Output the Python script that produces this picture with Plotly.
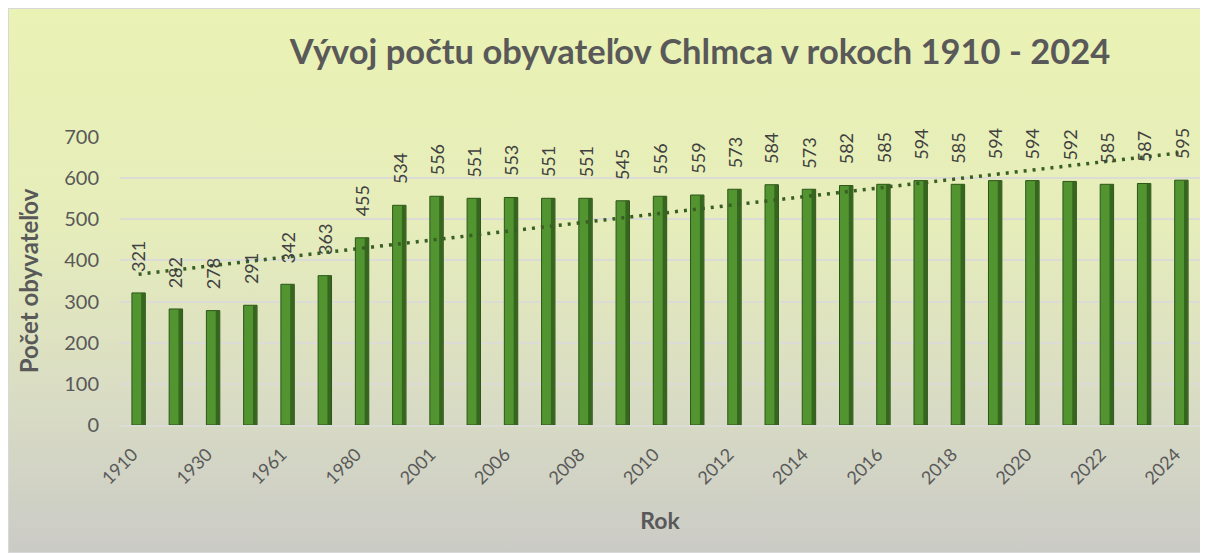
import base64
import numpy as np
import plotly.graph_objects as go

# ---------------- data ----------------
years = ["1910", "1921", "1930", "1940", "1961", "1970", "1980", "1991", "2001", "2005",
         "2006", "2007", "2008", "2009", "2010", "2011", "2012", "2013", "2014", "2015",
         "2016", "2017", "2018", "2019", "2020", "2021", "2022", "2023", "2024"]
population = [321, 282, 278, 291, 342, 363, 455, 534, 556, 551,
              553, 551, 551, 545, 556, 559, 573, 584, 573, 582,
              585, 594, 585, 594, 594, 592, 585, 587, 595]
shown_ticks = years[::2]

title_text = "Vývoj počtu obyvateľov Chlmca v rokoch 1910 - 2024"
y_title = "Počet obyvateľov"
x_title = "Rok"

# linear trend (Excel-style linear trendline)
idx = np.arange(len(population))
slope, intercept = np.polyfit(idx, population, 1)
trend = slope * idx + intercept

# ---------------- style ----------------
W, H = 1200, 545
ML, MR, MT, MB = 112, 8, 129, 128
PW, PH = W - ML - MR, H - MT - MB
FONT = "Lato"
GREY = "#595959"

svg = f'''<svg xmlns="http://www.w3.org/2000/svg" width="{W}" height="{H}" viewBox="0 0 {W} {H}" preserveAspectRatio="none">
<defs><linearGradient id="g" x1="0" y1="0" x2="0" y2="1">
<stop offset="0" stop-color="#eaf2b4"/>
<stop offset="0.4" stop-color="#e6edbb"/>
<stop offset="0.72" stop-color="#d9dcc4"/>
<stop offset="1" stop-color="#cbcbc6"/>
</linearGradient></defs>
<rect x="0" y="0" width="{W}" height="{H}" fill="url(#g)" stroke="#d8d8d8" stroke-width="2"/>
</svg>'''
bg_src = "data:image/svg+xml;base64," + base64.b64encode(svg.encode("utf-8")).decode()

fig = go.Figure()
# bar body (lit face)
fig.add_trace(go.Bar(
    x=years, y=population, width=0.36, offset=-0.18,
    marker=dict(color="#529530", line=dict(color="#2c5518", width=1)),
    showlegend=False, hoverinfo="x+y",
))
# darker right side of the bar to suggest the bevel
fig.add_trace(go.Bar(
    x=years, y=population, width=0.1, offset=0.07,
    marker=dict(color="#36651f", line=dict(width=0)),
    showlegend=False, hoverinfo="skip",
))
fig.add_trace(go.Scatter(
    x=years, y=trend, mode="lines",
    line=dict(color="#385e24", width=3.5, dash="3px,6px"),
    showlegend=False, hoverinfo="skip",
))

# data labels; on a category axis annotations use the category serial number
annotations = [
    dict(x=i, y=v, xref="x", yref="y", text=str(v), showarrow=False,
         textangle=-90, yanchor="bottom", xanchor="center", yshift=19,
         font=dict(family=FONT, size=18, color="#404040"))
    for i, v in enumerate(population)
]

fig.update_layout(
    width=W, height=H,
    margin=dict(l=ML, r=MR, t=MT, b=MB),
    paper_bgcolor="#ffffff", plot_bgcolor="rgba(0,0,0,0)",
    font=dict(family=FONT, color=GREY),
    title=dict(text=f"<b>{title_text}</b>", x=692 / W, xanchor="center",
               y=1 - 44 / H, yanchor="middle",
               font=dict(family=FONT, size=34.5, color=GREY)),
    barmode="overlay",
    annotations=annotations,
    images=[dict(source=bg_src, xref="paper", yref="paper",
                 x=-ML / PW, y=1 + MT / PH, sizex=W / PW, sizey=H / PH,
                 xanchor="left", yanchor="top", sizing="stretch", layer="below")],
)
fig.update_yaxes(
    range=[0, 700], dtick=100, showgrid=True, gridcolor="#dcdcd6", gridwidth=2,
    zeroline=False, showline=False, ticks="",
    tickfont=dict(family=FONT, size=20, color=GREY), ticklabelstandoff=20,
    title=dict(text=f"<b>{y_title}</b>", font=dict(family=FONT, size=24, color=GREY), standoff=18),
)
fig.update_xaxes(
    type="category", categoryorder="array", categoryarray=years,
    range=[-0.5, len(years) - 0.5],
    tickmode="array", tickvals=shown_ticks, ticktext=shown_ticks,
    tickangle=-45, ticks="", showgrid=False, showline=True, linecolor="#dcdcd6", linewidth=2,
    tickfont=dict(family=FONT, size=18, color=GREY), ticklabelstandoff=10, ticklabelshift=-6,
    title=dict(text=f"<b>{x_title}</b>", font=dict(family=FONT, size=23, color=GREY), standoff=26),
)

fig.write_html("out.html")
